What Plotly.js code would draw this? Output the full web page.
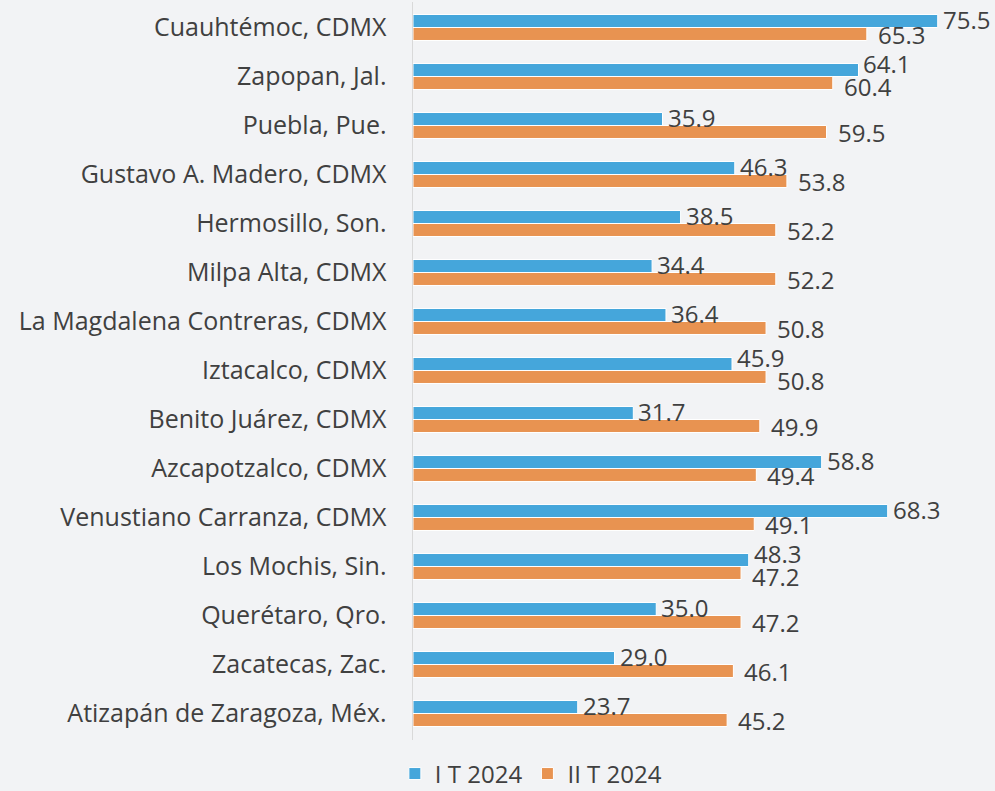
<!DOCTYPE html>
<html>
<head>
<meta charset="utf-8">
<script src="https://cdn.plot.ly/plotly-3.0.1.min.js"></script>
<style>html,body{margin:0;padding:0;background:#F2F3F5;}#chart{width:995px;height:791px;}</style>
</head>
<body>
<div id="chart"></div>
<script>
const categories = ["Cuauhtémoc, CDMX","Zapopan, Jal.","Puebla, Pue.","Gustavo A. Madero, CDMX","Hermosillo, Son.","Milpa Alta, CDMX","La Magdalena Contreras, CDMX","Iztacalco, CDMX","Benito Juárez, CDMX","Azcapotzalco, CDMX","Venustiano Carranza, CDMX","Los Mochis, Sin.","Querétaro, Qro.","Zacatecas, Zac.","Atizapán de Zaragoza, Méx."];
const seriesNames = ["I T 2024","II T 2024"];
const q1 = [75.5,64.1,35.9,46.3,38.5,34.4,36.4,45.9,31.7,58.8,68.3,48.3,35.0,29.0,23.7];
const q2 = [65.3,60.4,59.5,53.8,52.2,52.2,50.8,50.8,49.9,49.4,49.1,47.2,47.2,46.1,45.2];

const FONT = "'Open Sans', sans-serif";
const TXT = '#404040';
function mk(vals, name, color){
  return {
    type:'bar', orientation:'h', name:name, y:categories, x:vals,
    marker:{color:color, line:{color:'#FFFFFF', width:1}},
    hoverinfo:'x+y'
  };
}
const data = [mk(q1, seriesNames[0], '#45A6DB'), mk(q2, seriesNames[1], '#E89351')];

// label placement: nudge apart the labels of a pair when they would collide horizontally
const LABEL_W = 7.2; // approx label width in data units
const annotations = [];
categories.forEach((c,i)=>{
  const b0 = q1[i] + 0.45, o0 = q2[i] + 1.3;
  const clash = Math.abs(b0 - o0) < LABEL_W;
  annotations.push({x:q1[i], y:c, xref:'x', yref:'y', text:q1[i].toFixed(1), showarrow:false,
    xanchor:'left', yanchor:'middle', xshift:3, yshift: clash ? 13 : 8, font:{family:FONT, size:24, color:TXT}});
  annotations.push({x:q2[i], y:c, xref:'x', yref:'y', text:q2[i].toFixed(1), showarrow:false,
    xanchor:'left', yanchor:'middle', xshift:9, yshift: clash ? -10 : -7, font:{family:FONT, size:24, color:TXT}});
});

const layout = {
  width:995, height:791,
  paper_bgcolor:'#F2F3F5', plot_bgcolor:'#F2F3F5',
  margin:{l:413, r:26, t:2, b:51, autoexpand:false},
  barmode:'group', bargap:0.47, bargroupgap:0,
  font:{family:FONT, color:TXT, size:24},
  xaxis:{range:[0,80], visible:false, fixedrange:true},
  yaxis:{autorange:'reversed', showline:true, linecolor:'#D9D9D9', linewidth:1.5,
         ticks:'', ticklabelstandoff:20, showgrid:false, tickfont:{family:FONT, size:25, color:TXT}},
  showlegend:true,
  legend:{orientation:'h', x:0.212, xanchor:'center', y:-0.046, yanchor:'middle',
          font:{family:FONT, size:24, color:TXT}, itemwidth:30, tracegroupgap:0},
  annotations: annotations
};
Plotly.newPlot('chart', data, layout, {displayModeBar:false, staticPlot:true});
</script>
</body>
</html>
